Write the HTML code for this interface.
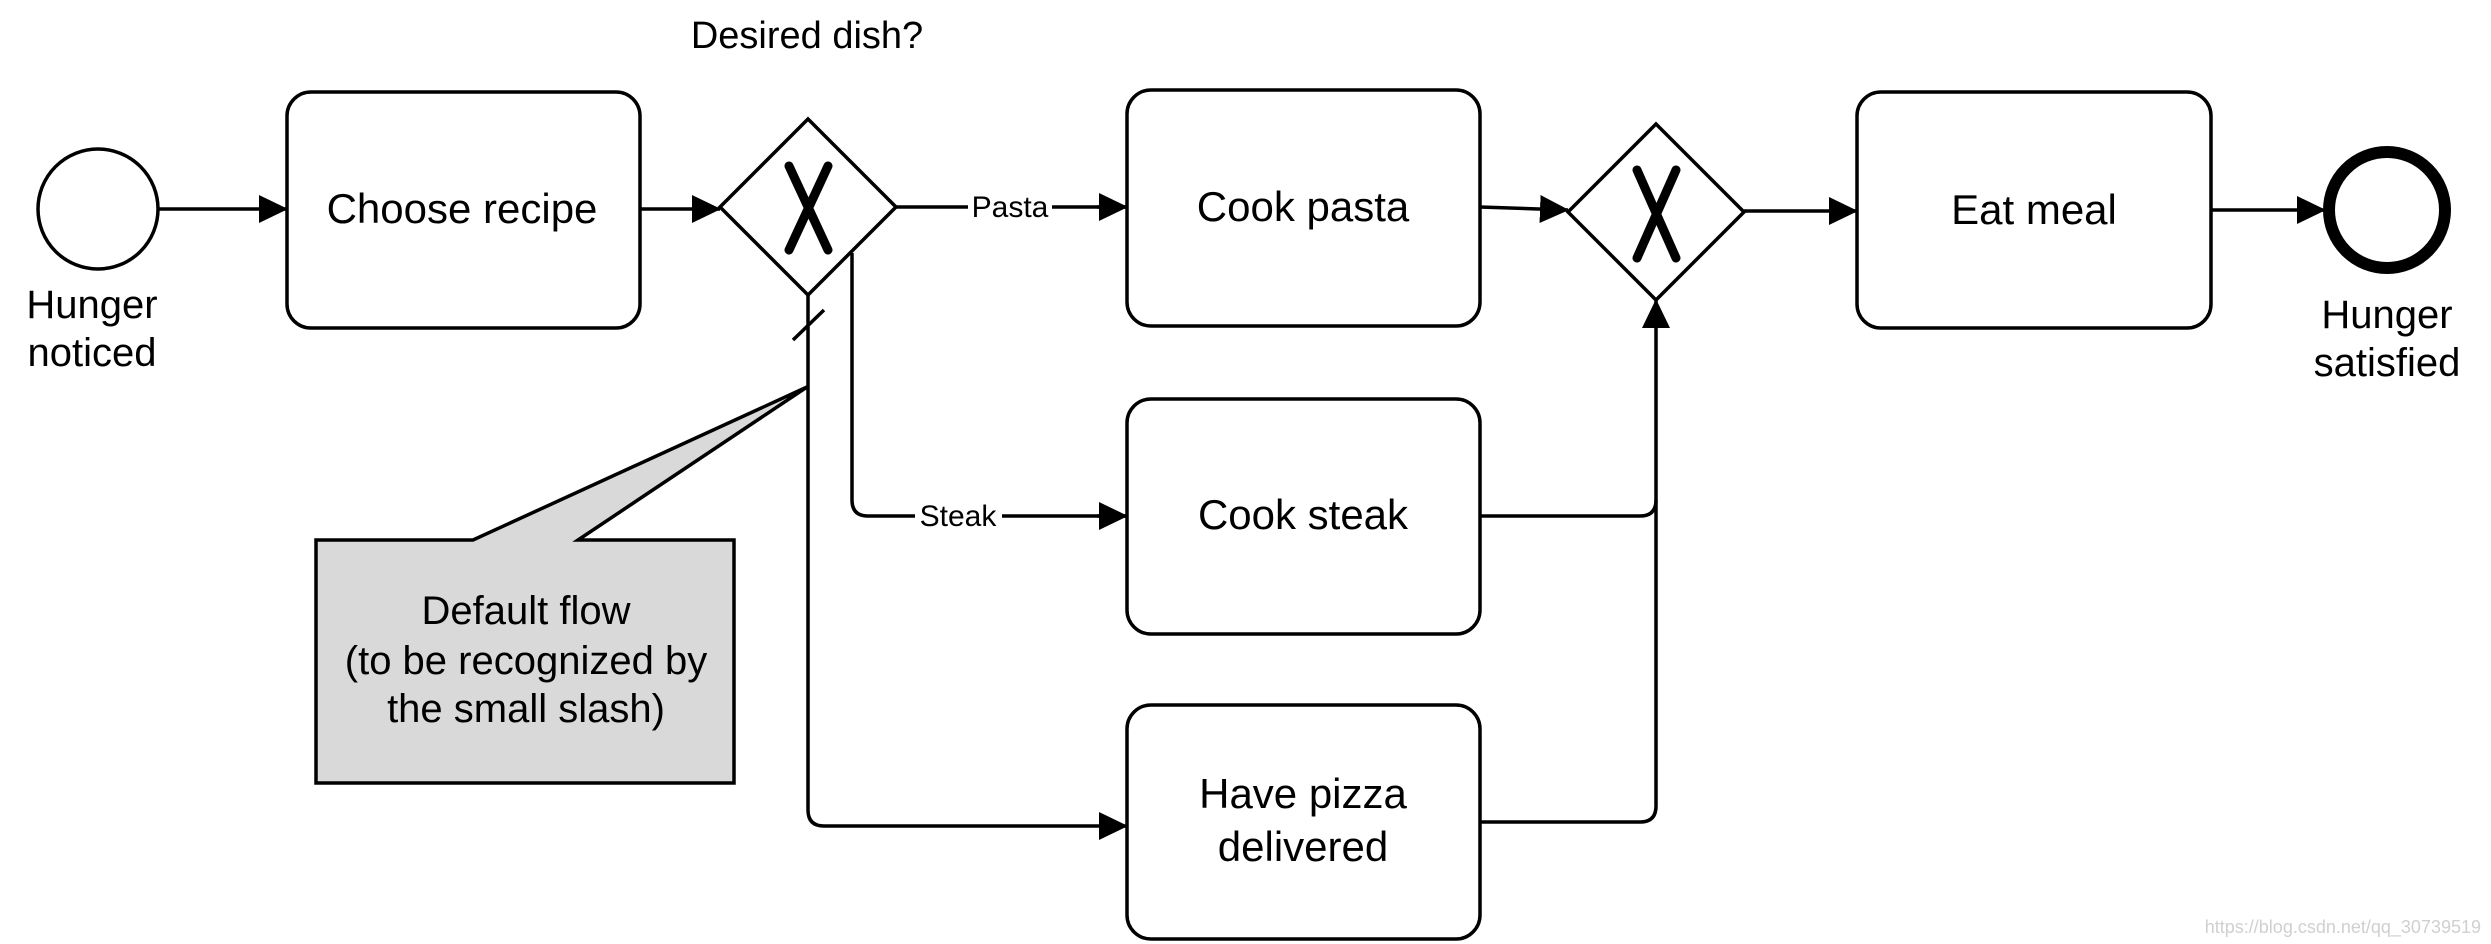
<!DOCTYPE html>
<html><head><meta charset="utf-8"><style>
html,body{margin:0;padding:0;background:#fff;}
svg{display:block;}
text{font-family:"Liberation Sans",Arial,sans-serif;fill:#000;}
</style></head><body>
<svg width="2491" height="944" viewBox="0 0 2491 944" xmlns="http://www.w3.org/2000/svg">
<defs>
<marker id="a" markerWidth="30" markerHeight="30" refX="28" refY="14" orient="auto" markerUnits="userSpaceOnUse">
<path d="M0,0 L29,14 L0,28 Z" fill="#000"/>
</marker>
</defs>
<g fill="none" stroke="#000" stroke-width="3.5">
<!-- start event -->
<circle cx="98" cy="209" r="60" fill="#fff"/>
<!-- end event -->
<circle cx="2387" cy="210" r="58" stroke-width="12" fill="#fff"/>
<!-- tasks -->
<rect x="287" y="92" width="353" height="236" rx="24" fill="#fff"/>
<rect x="1127" y="90" width="353" height="236" rx="24" fill="#fff"/>
<rect x="1127" y="399" width="353" height="235" rx="24" fill="#fff"/>
<rect x="1127" y="705" width="353" height="234" rx="24" fill="#fff"/>
<rect x="1857" y="92" width="354" height="236" rx="24" fill="#fff"/>
<!-- gateways -->
<path d="M808,119 L896,207 L808,295 L720,207 Z" fill="#fff"/>
<path d="M1656,124 L1744,212 L1656,300 L1568,212 Z" fill="#fff"/>
<!-- flows -->
<path d="M158,209 L287,209" marker-end="url(#a)"/>
<path d="M640,209 L720,209" marker-end="url(#a)"/>
<path d="M896,207 L968,207 M1052,207 L1127,207" />
<path d="M1097,207 L1127,207" marker-end="url(#a)"/>
<path d="M852,253 L852,500 Q852,516 868,516 L915,516 M1002,516 L1127,516"/>
<path d="M1097,516 L1127,516" marker-end="url(#a)"/>
<path d="M808,295 L808,810 Q808,826 824,826 L1127,826" marker-end="url(#a)"/>
<path d="M793,340 L824,310"/>
<path d="M1480,207 L1568,210" marker-end="url(#a)"/>
<path d="M1480,516 L1640,516 Q1656,516 1656,500 L1656,300" marker-end="url(#a)"/>
<path d="M1480,822 L1640,822 Q1656,822 1656,806 L1656,500"/>
<path d="M1744,211 L1857,211" marker-end="url(#a)"/>
<path d="M2211,210 L2325,210" marker-end="url(#a)"/>
<!-- callout -->
<path d="M316,540 L473,540 L807,387 L578,540 L734,540 L734,783 L316,783 Z" fill="#d9d9d9"/>
</g>
<!-- X markers -->
<g stroke="#000" stroke-width="9" stroke-linecap="round">
<path d="M789,166 L828,250 M828,166 L789,250"/>
<path d="M1637,170 L1676,258 M1676,170 L1637,258"/>
</g>
<g text-anchor="middle" font-size="40">
<text x="92" y="318">Hunger</text>
<text x="92" y="366">noticed</text>
<text x="462" y="223" font-size="42">Choose recipe</text>
<text x="807" y="48" font-size="38">Desired dish?</text>
<text x="1010" y="217" font-size="30">Pasta</text>
<text x="958" y="526" font-size="30">Steak</text>
<text x="1303" y="221" font-size="42">Cook pasta</text>
<text x="1303" y="529" font-size="42">Cook steak</text>
<text x="1303" y="808" font-size="42">Have pizza</text>
<text x="1303" y="861" font-size="42">delivered</text>
<text x="2034" y="224" font-size="42">Eat meal</text>
<text x="2387" y="328">Hunger</text>
<text x="2387" y="376">satisfied</text>
<text x="526" y="624">Default flow</text>
<text x="526" y="674">(to be recognized by</text>
<text x="526" y="722">the small slash)</text>
</g>
<text x="2481" y="933" text-anchor="end" font-size="18" style="fill:#d0d0d0">https://blog.csdn.net/qq_30739519</text>
</svg>
</body></html>
